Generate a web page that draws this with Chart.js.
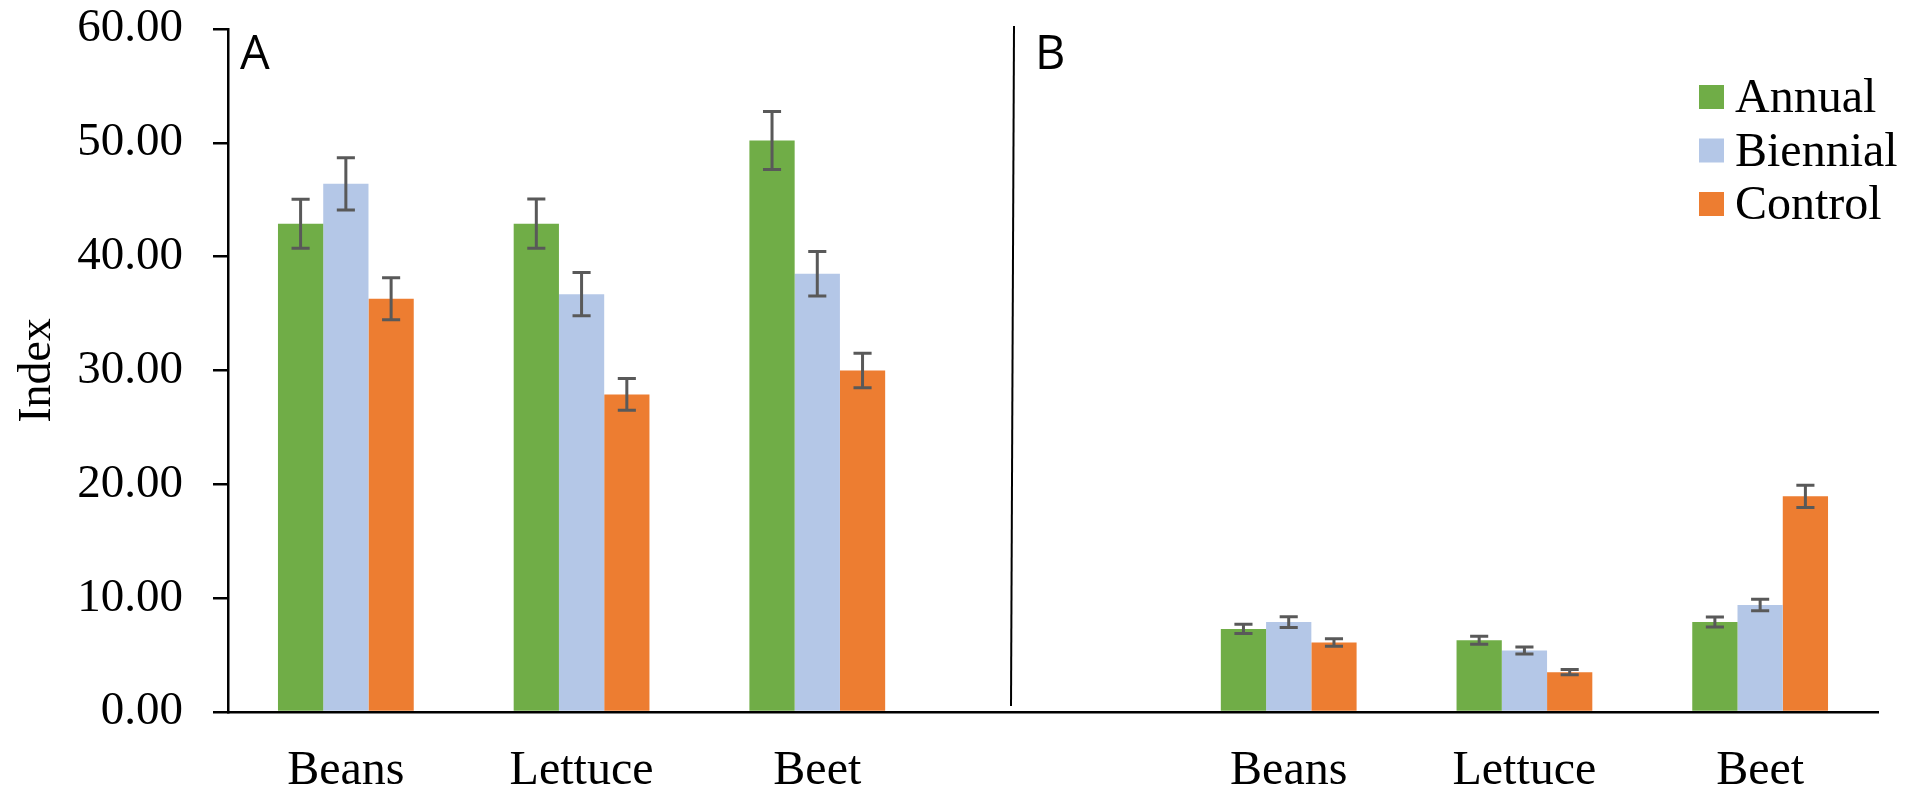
<!DOCTYPE html>
<html>
<head>
<meta charset="utf-8">
<title>Index by crop</title>
<script src="https://cdn.jsdelivr.net/npm/chart.js@4.4.1/dist/chart.umd.min.js"></script>
<style>
    html, body { margin: 0; padding: 0; background: #fff; }
    #chart { display: block; }
</style>
</head>
<body>
<canvas id="chart" width="1921" height="787"></canvas>
<script>
const crops = ['Beans', 'Lettuce', 'Beet'];
const seriesNames = ['Annual', 'Biennial', 'Control'];
const seriesColors = ['#70AD47', '#B4C7E7', '#ED7D31'];

// Panel A
const annualA = [42.9, 42.9, 50.2];
const biennialA = [46.4, 36.7, 38.5];
const controlA = [36.3, 27.9, 30.0];
const annualErrA = [2.15, 2.17, 2.55];
const biennialErrA = [2.3, 1.9, 1.95];
const controlErrA = [1.85, 1.4, 1.52];

// Panel B
const annualB = [7.3, 6.3, 7.9];
const biennialB = [7.9, 5.4, 9.4];
const controlB = [6.1, 3.5, 18.95];
const annualErrB = [0.4, 0.35, 0.44];
const biennialErrB = [0.47, 0.31, 0.5];
const controlErrB = [0.33, 0.23, 0.98];

const yMin = 0;
const yMax = 60;
const yStep = 10;

const SERIF = "'Liberation Serif', 'Times New Roman', serif";
const SANS = "'Open Sans', 'DejaVu Sans', sans-serif";

Chart.defaults.font.family = SERIF;
Chart.defaults.color = '#000';

// both panels share one category axis, with an empty slot between them
const labels = crops.concat([''], crops);
const join = (a, b) => a.concat([null], b);

const panelValues = [join(annualA, annualB), join(biennialA, biennialB), join(controlA, controlB)];
const panelErrors = [join(annualErrA, annualErrB), join(biennialErrA, biennialErrB), join(controlErrA, controlErrB)];

const datasets = seriesNames.map((name, i) => ({
    label: name,
    data: panelValues[i],
    errors: panelErrors[i],
    backgroundColor: seriesColors[i],
    borderWidth: 0,
    barPercentage: 1,
    categoryPercentage: 0.576
}));

const errorBars = {
    id: 'errorBars',
    afterDatasetsDraw(chart) {
        const ctx = chart.ctx;
        const y = chart.scales.y;
        ctx.save();
        ctx.strokeStyle = '#595959';
        ctx.lineWidth = 3;
        chart.data.datasets.forEach((ds, i) => {
            chart.getDatasetMeta(i).data.forEach((bar, j) => {
                const v = ds.data[j];
                const e = ds.errors[j];
                if (v == null || e == null) return;
                const top = y.getPixelForValue(v + e);
                const bot = y.getPixelForValue(v - e);
                const half = bar.width * 0.2;
                ctx.beginPath();
                ctx.moveTo(bar.x, top);
                ctx.lineTo(bar.x, bot);
                ctx.moveTo(bar.x - half, top);
                ctx.lineTo(bar.x + half, top);
                ctx.moveTo(bar.x - half, bot);
                ctx.lineTo(bar.x + half, bot);
                ctx.stroke();
            });
        });
        ctx.restore();
    }
};

// panel letters, divider line and the legend
const annotations = {
    id: 'annotations',
    afterDraw(chart) {
        const ctx = chart.ctx;
        const area = chart.chartArea;
        ctx.save();

        ctx.font = `47px ${SANS}`;
        ctx.fillStyle = '#000';
        ctx.textBaseline = 'alphabetic';
        ctx.textAlign = 'left';
        ctx.fillText('A', area.left + 12, 69);
        ctx.fillText('B', area.left + 807, 69);

        ctx.strokeStyle = '#000';
        ctx.lineWidth = 2;
        ctx.beginPath();
        ctx.moveTo(area.left + 786, 26);
        ctx.lineTo(area.left + 783, 706);
        ctx.stroke();

        ctx.font = `48px ${SERIF}`;
        chart.data.datasets.forEach((ds, i) => {
            const cy = area.top + 68 + i * 53.5;
            ctx.fillStyle = ds.backgroundColor;
            ctx.fillRect(area.right - 179, cy - 12, 25, 24);
            ctx.fillStyle = '#000';
            ctx.fillText(ds.label, area.right - 143, cy + 15);
        });
        ctx.restore();
    }
};

function fitX(scale) {
    scale.height = 75;
}

function fitY(scale) {
    scale.paddingTop = 0;
    scale.paddingBottom = 0;
    scale.width = 218;
}

function draw() {
    new Chart(document.getElementById('chart'), {
        type: 'bar',
        data: { labels, datasets },
        options: {
            responsive: false,
            animation: false,
            devicePixelRatio: 1,
            layout: { padding: { left: 10, right: 43, top: 29, bottom: 0 } },
            plugins: { legend: { display: false }, tooltip: { enabled: false } },
            scales: {
                x: {
                    grid: { display: false, drawTicks: false },
                    border: { color: '#000', width: 2.5 },
                    ticks: { font: { size: 48, lineHeight: 0.9 }, padding: 38, color: '#000', maxRotation: 0, autoSkip: false },
                    afterFit: fitX
                },
                y: {
                    min: yMin,
                    max: yMax,
                    grid: { drawOnChartArea: false, drawTicks: true, tickLength: 15, color: '#000', lineWidth: 2.5 },
                    border: { color: '#000', width: 2.5 },
                    ticks: {
                        stepSize: yStep,
                        padding: 30,
                        font: { size: 47 },
                        color: '#000',
                        callback: v => Number(v).toFixed(2)
                    },
                    title: {
                        display: true,
                        text: 'Index',
                        color: '#000',
                        font: { size: 46 },
                        padding: { top: 0, bottom: 12 }
                    },
                    afterFit: fitY
                }
            }
        },
        plugins: [errorBars, annotations]
    });
}

Promise.all([
    document.fonts.load(`48px 'Liberation Serif'`),
    document.fonts.load(`47px 'Open Sans'`)
]).then(draw, draw);
</script>
</body>
</html>
